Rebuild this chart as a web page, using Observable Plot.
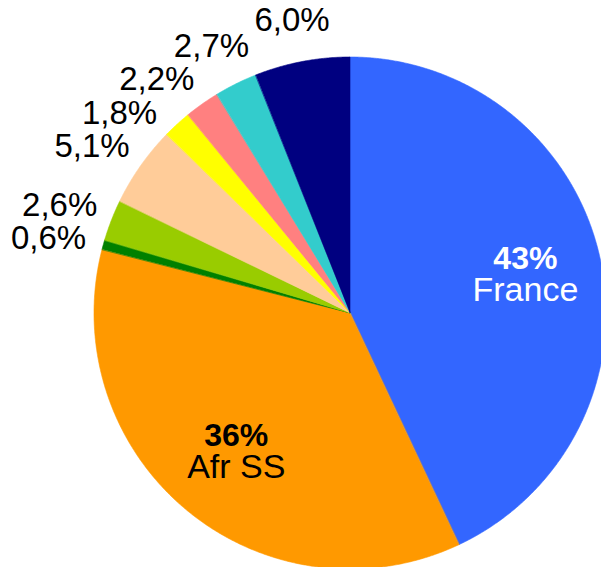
<!DOCTYPE html>
<html><head><meta charset="utf-8">
<script src="https://cdn.jsdelivr.net/npm/d3@7"></script>
<script src="https://cdn.jsdelivr.net/npm/@observablehq/plot@0.6"></script>
<style>html,body{margin:0;padding:0;background:#fff;overflow:hidden} svg{display:block}</style>
</head><body><div id="chart"></div>
<script>
// Data (clockwise from 12 o'clock)
const categories = ["France", "Afr SS", "Part 3", "Part 4", "Part 5", "Part 6", "Part 7", "Part 8", "Part 9"];
const values = [43, 36, 0.6, 2.6, 5.1, 1.8, 2.2, 2.7, 6.0];
const colors = ["#3366FF", "#FF9900", "#008000", "#99CC00", "#FFCC99", "#FFFF00", "#FF8080", "#33CCCC", "#000080"];
const insideNames = ["France", "Afr SS"];

const W = 601, H = 567, cx = 350, cy = 313, R = 256;
const outerFont = 33, boldFont = 32, nameFont = 34;
const labelRx = 312 / R, labelRy = 298 / R;   // label centre ellipse (outside labels)
const sepW = 73, sepH = 33;                     // min separation between outside labels (px)
const rIn = 0.70;

const total = d3.sum(values);
let cum = 0;
const slices = values.map((v, i) => {
  const a0 = cum / total * 2 * Math.PI; cum += v;
  const a1 = cum / total * 2 * Math.PI;
  return {category: categories[i], value: v, a0, a1, mid: (a0 + a1) / 2, inside: insideNames.includes(categories[i])};
});
const arcPts = slices.flatMap(s => {
  const n = Math.max(2, Math.ceil((s.a1 - s.a0) / 0.005));
  return d3.range(n + 1).map(k => {
    const a = s.a0 + (s.a1 - s.a0) * k / n;
    return {category: s.category, x: Math.sin(a), y: Math.cos(a)};
  });
});

// outside labels: placed on an ellipse at the slice's mid-angle, swept counter-clockwise from the top
const outside = slices.filter(d => !d.inside).map(d => ({...d, ang: d.mid}));
function place(d) { d.px = labelRx * Math.sin(d.ang); d.py = labelRy * Math.cos(d.ang); }
const placed = [];
outside.slice().sort((a, b) => b.ang - a.ang).forEach(d => {
  place(d);
  let guard = 0;
  while (guard++ < 2000 && placed.some(p => Math.abs(p.px - d.px) * R < sepW && Math.abs(p.py - d.py) * R < sepH)) {
    d.ang -= 0.002; place(d);
  }
  placed.push(d);
});
const inside = slices.filter(d => d.inside);
const font = "'Liberation Sans', Arial, sans-serif";

const chart = Plot.plot({
  width: W, height: H,
  margin: 0,
  style: {fontFamily: font, background: "#fff"},
  x: {domain: [-cx / R, (W - cx) / R], axis: null},
  y: {domain: [-(H - cy) / R, cy / R], axis: null},
  color: {domain: categories, range: colors},
  marks: [
    Plot.area(arcPts, {x1: "x", y1: "y", x2: d => 0, y2: d => 0, z: "category", fill: "category", stroke: "category", strokeWidth: 0.6}),
    Plot.text(outside, {
      x: "px", y: "py",
      text: d => d.value.toFixed(1).replace(".", ",") + "%",
      fontSize: outerFont, fill: "black"
    }),
    Plot.text(inside, {
      x: d => rIn * Math.sin(d.mid), y: d => rIn * Math.cos(d.mid),
      text: d => Math.round(d.value) + "%\n" + d.category,
      fontSize: nameFont, lineHeight: 0.95,
      fill: d => d.category === "France" ? "white" : "black",
      className: "inner-label"
    })
  ]
});
// first line of inside labels (the percentage) is bold
chart.querySelectorAll(".inner-label text").forEach(t => {
  const first = t.querySelector("tspan");
  if (first) { first.setAttribute("font-weight", "bold"); first.setAttribute("font-size", boldFont); }
});
document.getElementById("chart").appendChild(chart);
</script>
</body></html>
